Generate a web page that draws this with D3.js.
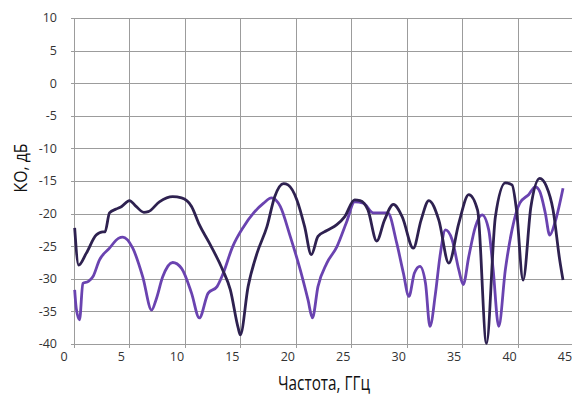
<!DOCTYPE html>
<html>
<head>
<meta charset="utf-8">
<script src="https://cdn.jsdelivr.net/npm/d3@7"></script>
<style>
  body { margin: 0; background: #fff; }
  svg text { font-family: "Open Sans", "Noto Sans", sans-serif; }
</style>
</head>
<body>
<div id="chart"></div>
<script>
// Frequency (GHz) and reflection coefficient (dB)
const darkX = [0.06, 0.42, 1.1, 2.0, 2.6, 2.8, 3.2, 3.8, 4.3, 5.0, 5.6, 6.3, 6.7, 7.7, 8.9, 9.7, 10.6, 11.3,
  12.2, 13.4, 14.1, 14.8, 15.0, 15.7, 16.5, 17.4, 18.1, 18.9, 19.3, 20.1, 20.8, 21.4, 22.0, 22.8, 23.7, 24.4,
  25.3, 25.8, 26.5, 27.3, 28.0, 28.8, 29.6, 30.6, 31.3, 32.0, 32.9, 33.8, 34.7, 35.6, 36.4, 37.2, 38.0, 38.9,
  39.5, 39.9, 40.5, 41.2, 42.0, 42.6, 43.2, 43.8, 44.1];
const darkY = [-22.2, -27.9, -26.1, -23.3, -22.8, -22.8, -19.9, -19.3, -18.9, -18.0, -18.9, -19.8, -19.7, -18.2, -17.4, -17.6, -18.9, -21.7,
  -24.5, -28.6, -31.7, -37.5, -38.6, -31.2, -26.1, -22.0, -17.4, -15.4, -15.6, -17.9, -22.0, -26.3, -23.5, -22.6, -21.7, -20.5,
  -17.9, -18.0, -19.4, -24.2, -21.0, -18.6, -20.5, -25.3, -21.0, -18.0, -21.0, -27.6, -21.5, -17.1, -19.5, -39.9, -20.5, -15.3,
  -15.6, -19.4, -30.2, -19.0, -14.6, -15.8, -19.4, -27.1, -30.2];

const lightX = [0.06, 0.2, 0.5, 0.8, 1.3, 1.7, 2.3, 3.2, 4.0, 4.4, 5.3, 6.2, 7.0, 7.4, 8.0, 8.9, 9.7, 10.6, 11.3,
  12.1, 12.9, 13.4, 14.3, 15.3, 16.2, 17.1, 17.8, 18.6, 19.5, 20.4, 21.1, 21.5, 22.0, 22.8, 23.7, 24.6,
  25.3, 26.1, 27.0, 28.3, 29.1, 29.7, 30.2, 30.7, 31.2, 31.7, 32.1, 32.6, 33.0, 33.5, 34.1, 34.7, 35.1,
  35.6, 36.2, 36.8, 37.4, 37.8, 38.3, 38.9, 39.5, 40.2, 41.0, 41.6, 42.0, 42.5, 42.9, 43.4, 44.1];
const lightY = [-31.7, -34.5, -36.3, -30.7, -30.4, -29.7, -27.1, -25.3, -23.8, -23.6, -25.3, -29.7, -34.8, -33.2, -29.7, -27.5, -28.4, -32.2, -36.0,
  -32.2, -31.2, -29.4, -25.1, -22.0, -19.9, -18.4, -17.6, -18.9, -23.5, -28.6, -33.2, -36.0, -31.2, -27.6, -25.1, -21.2,
  -18.2, -18.4, -19.9, -19.9, -24.5, -29.1, -32.7, -29.1, -28.1, -30.7, -37.3, -32.2, -26.6, -22.5, -24.0, -28.6, -30.9,
  -26.6, -22.0, -20.2, -22.5, -28.6, -37.3, -28.6, -22.5, -18.4, -17.1, -15.9, -16.6, -19.9, -23.3, -21.2, -16.1];

const xTicks = [0, 5, 10, 15, 20, 25, 30, 35, 40, 45];
const yTicks = [10, 5, 0, -5, -10, -15, -20, -25, -30, -35, -40];

const width = 572, height = 395;
const margin = { top: 18, right: 0, bottom: 51, left: 74 };

const svg = d3.select('#chart').append('svg')
  .attr('width', width)
  .attr('height', height);

// the plot runs a pixel past the right edge of the picture
const x = d3.scaleLinear().domain([0, 45]).range([margin.left, 573]);
const y = d3.scaleLinear().domain([-40, 10]).range([height - margin.bottom, margin.top]);

// grid
svg.append('g').selectAll('line').data(yTicks).join('line')
  .attr('x1', margin.left - 3).attr('x2', width)
  .attr('y1', d => Math.round(y(d)) + 0.5).attr('y2', d => Math.round(y(d)) + 0.5)
  .attr('stroke', '#9c9c9c').attr('stroke-width', 1);

svg.append('g').selectAll('line').data(xTicks).join('line')
  .attr('x1', d => Math.round(x(d)) + 0.5).attr('x2', d => Math.round(x(d)) + 0.5)
  .attr('y1', y(10)).attr('y2', y(-40) + 4)
  .attr('stroke', '#9c9c9c').attr('stroke-width', 1);

// tick labels
svg.append('g').selectAll('text').data(yTicks).join('text')
  .attr('x', 57).attr('y', d => y(d))
  .attr('dy', '0.35em')
  .attr('text-anchor', 'end')
  .attr('font-size', 12.5)
  .attr('fill', '#333')
  .text(d => d);

svg.append('g').selectAll('text').data(xTicks).join('text')
  .attr('x', d => x(d) - (d === 0 ? 10 : 8))
  .attr('y', 357)
  .attr('dy', '0.35em')
  .attr('text-anchor', 'middle')
  .attr('font-size', 12.5)
  .attr('fill', '#333')
  .text(d => d);

// axis titles (condensed face in the original, squeezed here)
svg.append('text')
  .attr('transform', 'translate(27,168) rotate(-90)')
  .attr('text-anchor', 'middle')
  .attr('font-size', 19)
  .attr('fill', '#111')
  .attr('textLength', 49)
  .attr('lengthAdjust', 'spacingAndGlyphs')
  .text('КО, дБ');

svg.append('text')
  .attr('x', 324).attr('y', 390)
  .attr('text-anchor', 'middle')
  .attr('font-size', 20)
  .attr('fill', '#111')
  .attr('textLength', 92)
  .attr('lengthAdjust', 'spacingAndGlyphs')
  .text('Частота, ГГц');

// series
const line = d3.line()
  .x(d => x(d[0]))
  .y(d => y(d[1]))
  .curve(d3.curveMonotoneX);

svg.append('path')
  .datum(d3.zip(lightX, lightY))
  .attr('d', line)
  .attr('fill', 'none')
  .attr('stroke', '#6a43b0')
  .attr('stroke-width', 2.8)
  .attr('stroke-linejoin', 'round');

svg.append('path')
  .datum(d3.zip(darkX, darkY))
  .attr('d', line)
  .attr('fill', 'none')
  .attr('stroke', '#2e2150')
  .attr('stroke-width', 2.8)
  .attr('stroke-linejoin', 'round');
</script>
</body>
</html>
